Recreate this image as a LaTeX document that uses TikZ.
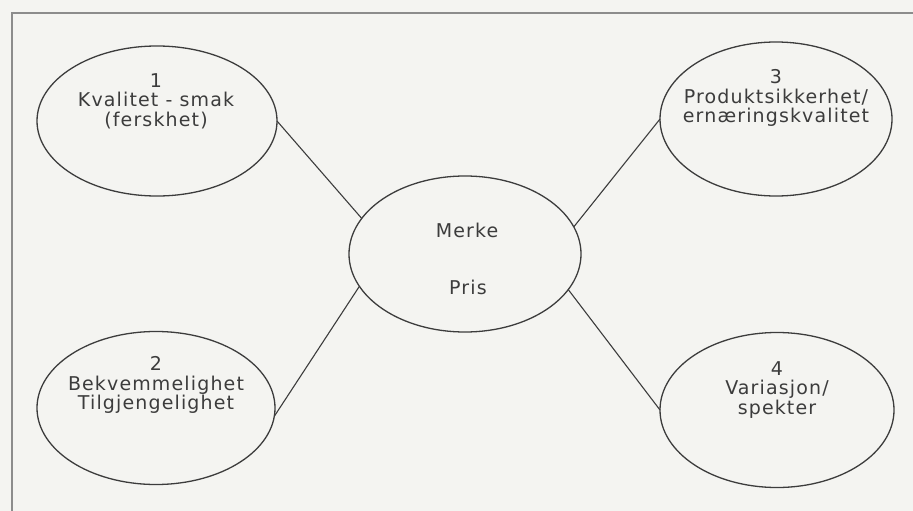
\documentclass[tikz,border=0pt]{standalone}
\usepackage{fontspec}
\setmainfont{DejaVu Sans}[LetterSpace=6.0]
\usetikzlibrary{shapes.geometric}
\definecolor{paper}{RGB}{244,244,241}
\definecolor{ink}{RGB}{60,60,60}
\definecolor{framecol}{RGB}{140,140,140}
\tikzset{
  oval/.style={ellipse, draw=ink, line width=1.3pt, inner sep=0pt, outer sep=0pt},
  lbl/.style={align=center, text=ink, inner sep=0pt, font=\fontsize{19}{19.5}\selectfont},
  link/.style={draw=ink, line width=1.1pt}
}
\begin{document}
\begin{tikzpicture}[x=1pt,y=-1pt]
\useasboundingbox (0,0) rectangle (913,511);
\fill[paper] (0,0) rectangle (913,511);
\draw[framecol, line width=1.8pt] (12,511) -- (12,13) -- (913,13);

\node[oval, minimum width=240pt, minimum height=150pt] (e1) at (157,121) {};
\node[oval, minimum width=238pt, minimum height=153pt] (e2) at (156,408) {};
\node[oval, minimum width=232pt, minimum height=154pt] (e3) at (776,119) {};
\node[oval, minimum width=234pt, minimum height=155pt] (e4) at (777,410) {};
\node[oval, minimum width=232pt, minimum height=156pt] (c) at (465,254) {};

\node[lbl] (t1) at (156,101) {1\\Kvalitet - smak\\(ferskhet)};
\node[lbl] (t2) at (156,385) {2\\Bekvemmelighet\\Tilgjengelighet};
\node[lbl] (t3) at (776,98) {3\\Produktsikkerhet/\\ernæringskvalitet};
\node[lbl] (t4) at (777,390) {4\\Variasjon/\\spekter};
\node[lbl] (tm) at (467,230) {Merke};
\node[lbl] (tp) at (468,287) {Pris};

\draw[link] (e1.east) -- (c.161);
\draw[link] (e2.-4) -- (c.197);
\draw[link] (e3.west) -- (c.14);
\draw[link] (e4.west) -- (c.341);
\end{tikzpicture}
\end{document}
